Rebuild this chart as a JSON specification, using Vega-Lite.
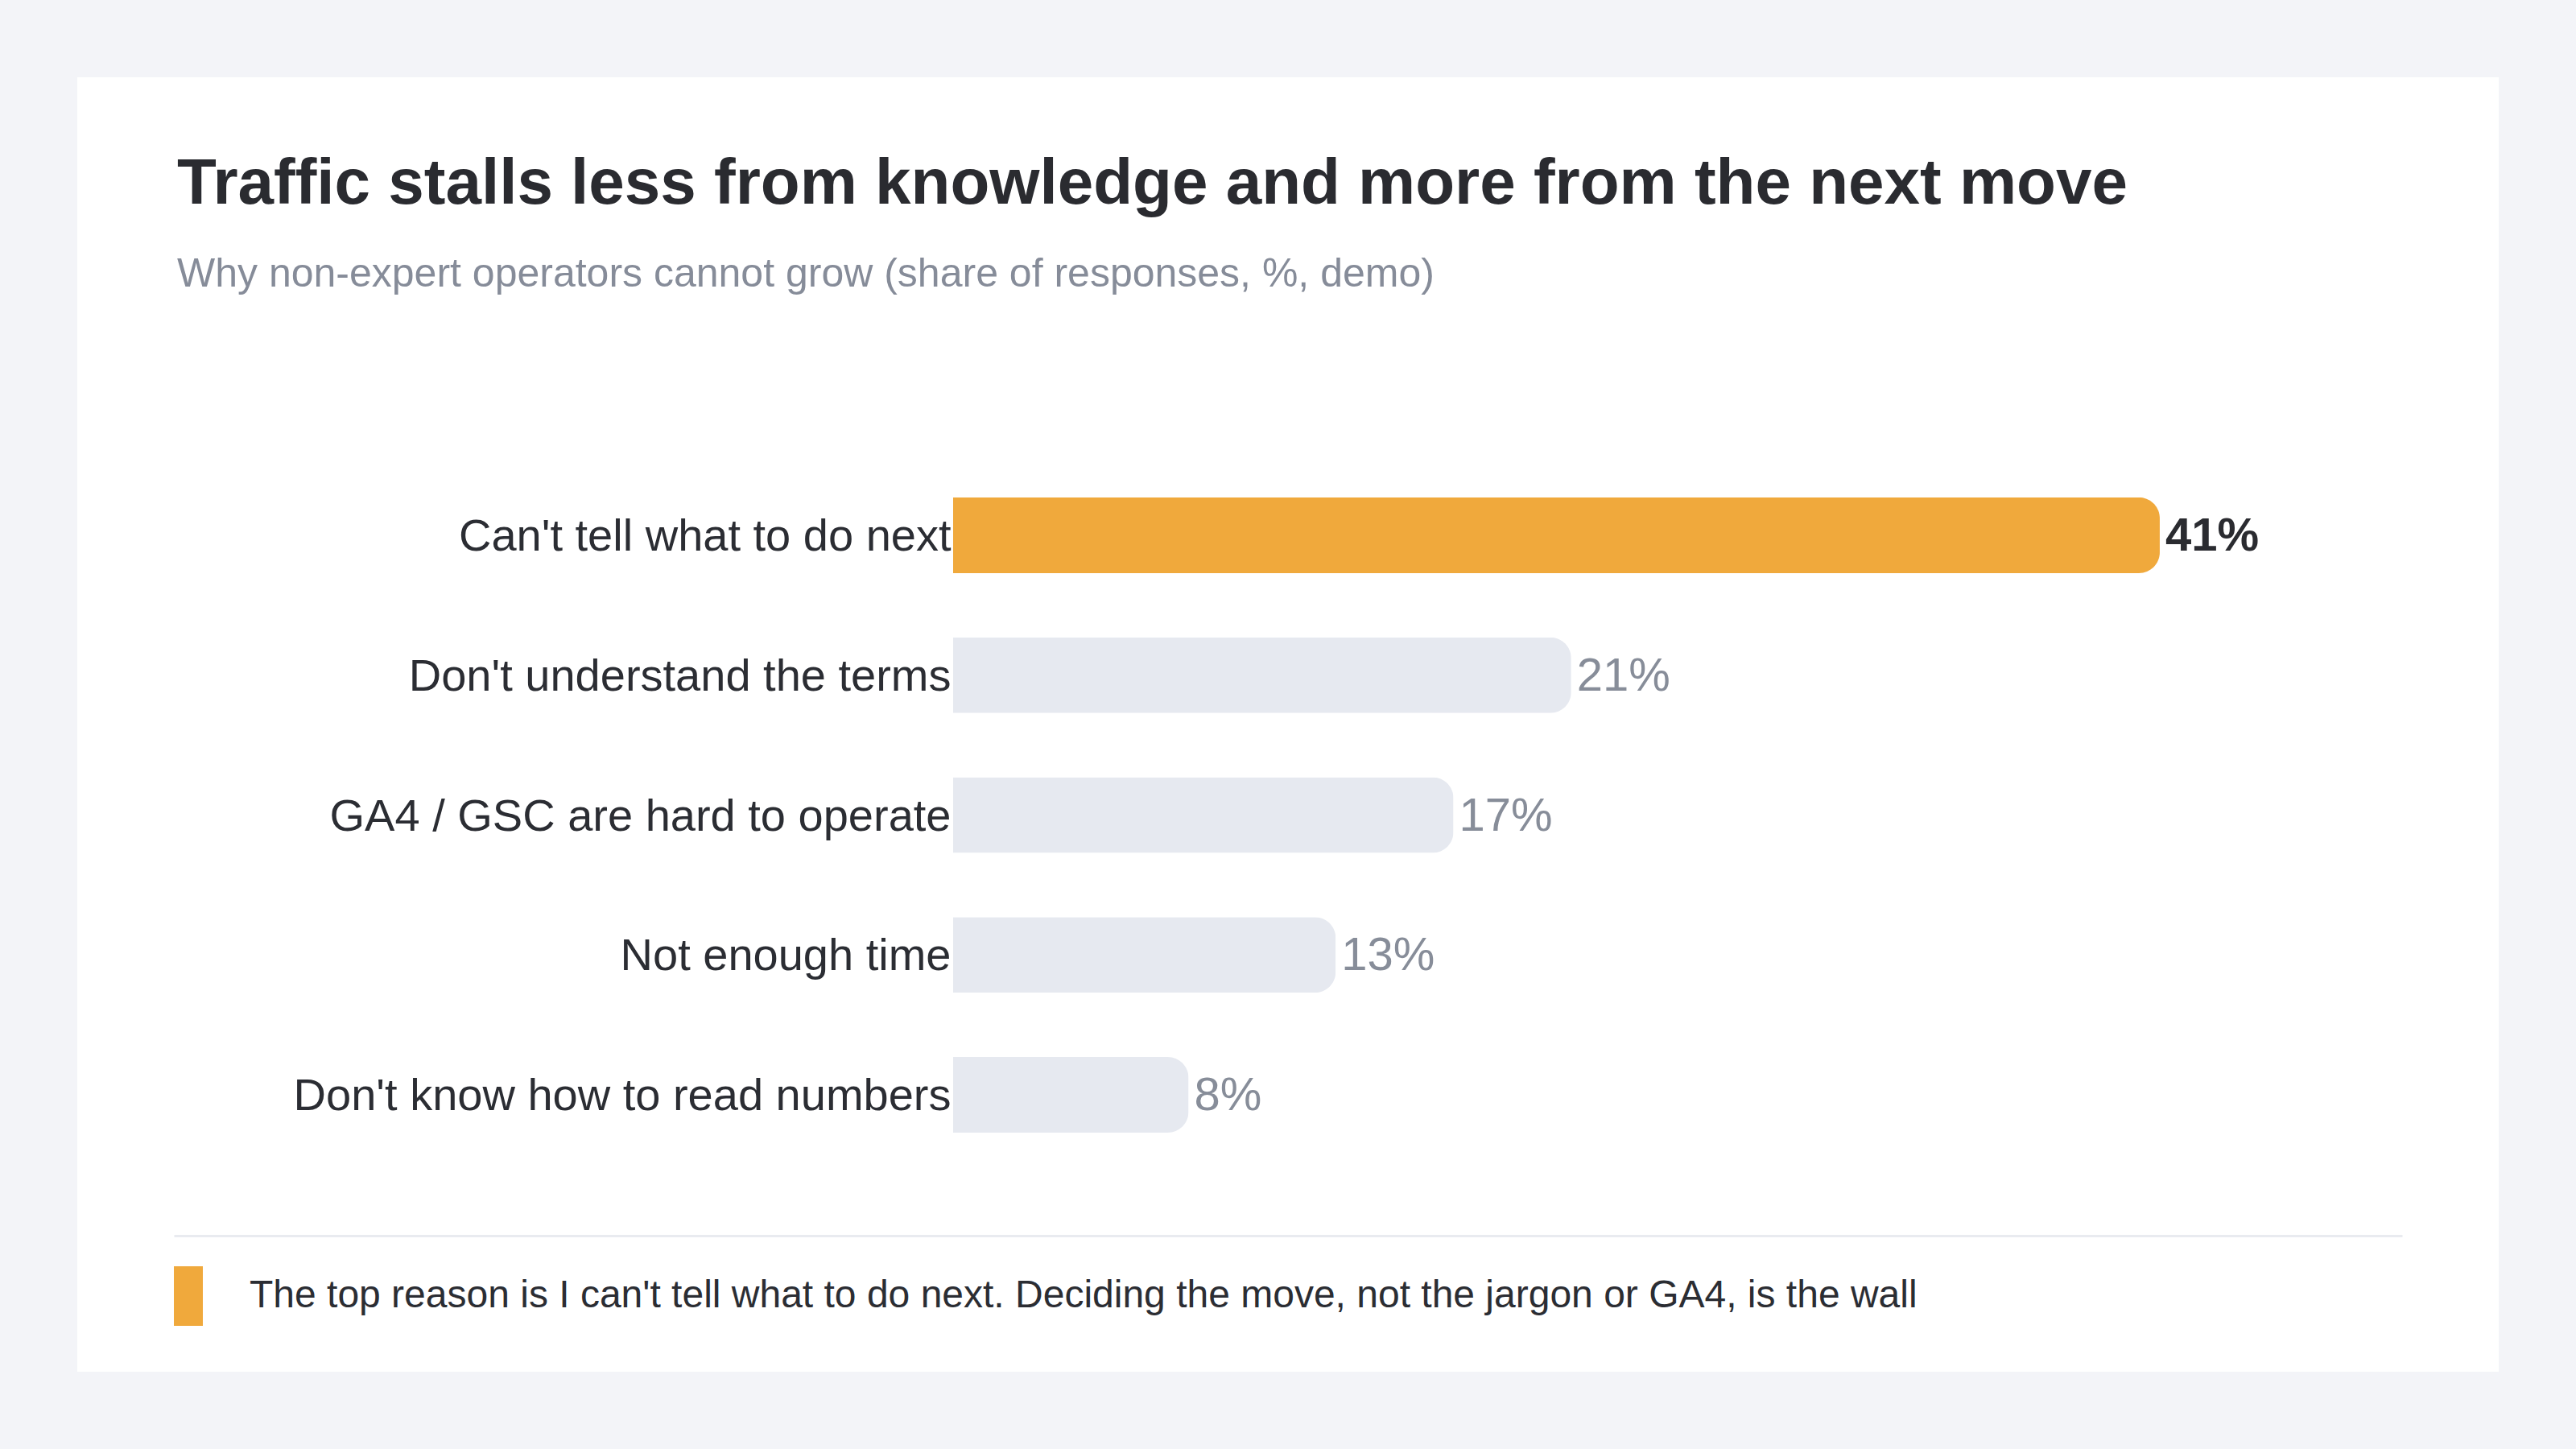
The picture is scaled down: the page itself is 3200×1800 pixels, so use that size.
{
  "$schema": "https://vega.github.io/schema/vega-lite/v6.json",
  "width": 3008,
  "height": 1608,
  "autosize": {"type": "none"},
  "padding": {"left": 96, "top": 96, "right": 96, "bottom": 96},
  "background": "#f3f4f8",
  "config": {
    "view": {"fill": "#ffffff", "stroke": null},
    "font": "Liberation Sans"
  },
  "title": {
    "text": "Traffic stalls less from knowledge and more from the next move",
    "subtitle": "Why non-expert operators cannot grow (share of responses, %, demo)",
    "anchor": "start",
    "frame": "group",
    "orient": "top",
    "font": "Liberation Sans",
    "fontSize": 80,
    "fontWeight": "bold",
    "color": "#2a2b30",
    "subtitleFont": "Liberation Sans",
    "subtitleFontSize": 50,
    "subtitleColor": "#868c99",
    "subtitlePadding": 46,
    "offset": -271,
    "dx": 124
  },
  "data": {
    "values": [
      {"reason": "Can't tell what to do next", "pct": 41, "label": "41%", "tier": "top"},
      {"reason": "Don't understand the terms", "pct": 21, "label": "21%", "tier": "other"},
      {"reason": "GA4 / GSC are hard to operate", "pct": 17, "label": "17%", "tier": "other"},
      {"reason": "Not enough time", "pct": 13, "label": "13%", "tier": "other"},
      {"reason": "Don't know how to read numbers", "pct": 8, "label": "8%", "tier": "other"}
    ]
  },
  "encoding": {
    "y": {
      "field": "reason",
      "type": "nominal",
      "sort": null,
      "scale": {"range": [482, 1351], "paddingInner": 0.459, "paddingOuter": 0.2295},
      "axis": {
        "title": null,
        "offset": -1088,
        "domain": false,
        "ticks": false,
        "labelPadding": 3,
        "labelOffset": 2,
        "labelFont": "Liberation Sans",
        "labelFontSize": 56,
        "labelColor": "#2b2d33",
        "labelLimit": 2000
      }
    },
    "x": {
      "field": "pct",
      "type": "quantitative",
      "scale": {"domain": [-26.477, 49.234], "range": [120, 2888], "nice": false, "zero": false},
      "axis": {
        "title": null,
        "orient": "bottom",
        "offset": -169,
        "labels": false,
        "ticks": false,
        "grid": false,
        "domain": true,
        "domainColor": "#e9ebf0",
        "domainWidth": 3
      }
    }
  },
  "layer": [
    {
      "mark": {"type": "bar", "cornerRadiusEnd": 26},
      "encoding": {
        "color": {
          "field": "tier",
          "type": "nominal",
          "scale": {"domain": ["top", "other"], "range": ["#f0a93c", "#e6e9f0"]},
          "legend": {
            "values": ["top"],
            "orient": "none",
            "legendX": 101,
            "legendY": 1477,
            "title": null,
            "padding": 0,
            "symbolType": "M-0.486,-1H0.486V1H-0.486Z",
            "symbolSize": 5476,
            "symbolStrokeWidth": 0,
            "symbolOpacity": 1,
            "labelExpr": "\"The top reason is I can't tell what to do next. Deciding the move, not the jargon or GA4, is the wall\"",
            "labelFont": "Liberation Sans",
            "labelFontSize": 48,
            "labelColor": "#2b2d33",
            "labelOffset": 39,
            "labelLimit": 3000
          }
        }
      }
    },
    {
      "transform": [{"filter": "datum.tier == 'top'"}],
      "mark": {"type": "text", "align": "left", "baseline": "middle", "dx": 7, "dy": 2, "fontSize": 58, "fontWeight": "bold", "color": "#2a2b30", "font": "Liberation Sans"},
      "encoding": {"text": {"field": "label"}}
    },
    {
      "transform": [{"filter": "datum.tier == 'other'"}],
      "mark": {"type": "text", "align": "left", "baseline": "middle", "dx": 7, "dy": 2, "fontSize": 58, "color": "#878d99", "font": "Liberation Sans"},
      "encoding": {"text": {"field": "label"}}
    }
  ]
}
